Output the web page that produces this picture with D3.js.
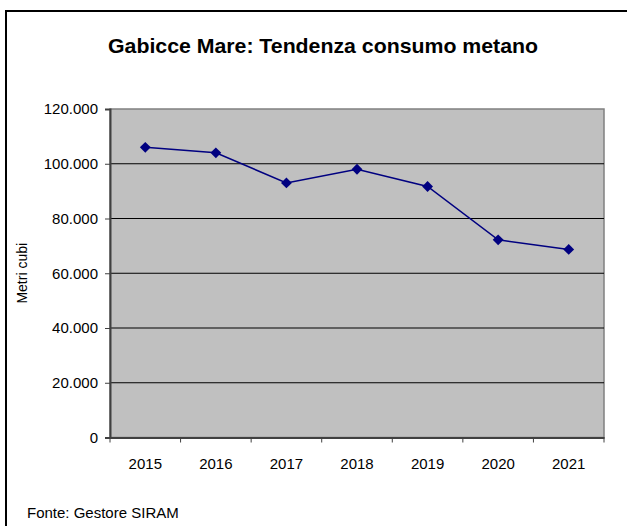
<!DOCTYPE html>
<html>
<head>
<meta charset="utf-8">
<script src="https://cdn.jsdelivr.net/npm/d3@7"></script>
<style>
  body { margin: 0; background: #fff; }
  text { font-family: Arial, "Liberation Sans", sans-serif; fill: #000; }
</style>
</head>
<body>
<script>
const years = ['2015', '2016', '2017', '2018', '2019', '2020', '2021'];
const consumo = [106000, 104000, 93000, 98000, 91700, 72200, 68700];
const yTicks = [0, 20000, 40000, 60000, 80000, 100000, 120000];

const width = 627, height = 526;
const plot = { left: 110, top: 109, right: 604, bottom: 437.5 };

const svg = d3.select('body').append('svg')
  .attr('width', width)
  .attr('height', height);

// outer frame (runs off the right and bottom edge)
svg.append('rect')
  .attr('x', 6).attr('y', 11)
  .attr('width', 700).attr('height', 600)
  .attr('fill', 'none')
  .attr('stroke', '#000')
  .attr('stroke-width', 2);

svg.append('text')
  .attr('x', 323).attr('y', 53)
  .attr('text-anchor', 'middle')
  .style('font-size', '21px')
  .style('font-weight', 'bold')
  .attr('textLength', 430)
  .attr('lengthAdjust', 'spacingAndGlyphs')
  .text('Gabicce Mare: Tendenza consumo metano');

const x = d3.scaleBand()
  .domain(years)
  .range([plot.left, plot.right]);

const y = d3.scaleLinear()
  .domain([0, 120000])
  .range([plot.bottom, plot.top]);

// plot background
svg.append('rect')
  .attr('x', plot.left).attr('y', plot.top)
  .attr('width', plot.right - plot.left)
  .attr('height', plot.bottom - plot.top)
  .attr('fill', '#c0c0c0')
  .attr('stroke', '#808080')
  .attr('stroke-width', 1.5);

// gridlines
svg.append('g')
  .selectAll('line')
  .data(yTicks.filter(d => d > 0 && d < 120000))
  .enter().append('line')
  .attr('x1', plot.left).attr('x2', plot.right)
  .attr('y1', d => y(d)).attr('y2', d => y(d))
  .attr('stroke', '#000')
  .attr('stroke-width', 1.2);

const fmt = d => d3.format(',')(d).replace(/,/g, '.');

const yAxis = svg.append('g')
  .attr('transform', `translate(${plot.left},0)`)
  .call(d3.axisLeft(y).tickValues(yTicks).tickFormat(fmt).tickSize(5).tickPadding(7));
yAxis.select('.domain').attr('stroke', '#404040').attr('stroke-width', 2);
yAxis.selectAll('.tick line').attr('stroke', '#404040');
yAxis.selectAll('.tick text').style('font-size', '15px').attr('fill', '#000');

const xAxis = svg.append('g')
  .attr('transform', `translate(0,${plot.bottom})`)
  .call(d3.axisBottom(x).tickSize(0).tickPadding(21));
xAxis.select('.domain').attr('stroke', '#404040').attr('stroke-width', 2);
xAxis.selectAll('.tick text').style('font-size', '15px').attr('fill', '#000');

// tick marks between categories
svg.append('g')
  .selectAll('line')
  .data(years.map(d => x(d)).concat([plot.right]))
  .enter().append('line')
  .attr('x1', d => d).attr('x2', d => d)
  .attr('y1', plot.bottom).attr('y2', plot.bottom + 5)
  .attr('stroke', '#404040');

svg.append('text')
  .attr('transform', `translate(27,${(plot.top + plot.bottom) / 2}) rotate(-90)`)
  .attr('text-anchor', 'middle')
  .style('font-size', '14px')
  .text('Metri cubi');

const line = d3.line()
  .x((d, i) => x(years[i]) + x.bandwidth() / 2)
  .y(d => y(d));

svg.append('path')
  .datum(consumo)
  .attr('d', line)
  .attr('fill', 'none')
  .attr('stroke', '#000080')
  .attr('stroke-width', 1.5);

svg.append('g')
  .selectAll('path')
  .data(consumo)
  .enter().append('path')
  .attr('d', d3.symbol().type(d3.symbolDiamond2).size(75))
  .attr('transform', (d, i) => `translate(${x(years[i]) + x.bandwidth() / 2},${y(d)})`)
  .attr('fill', '#000080');

svg.append('text')
  .attr('x', 27).attr('y', 518)
  .style('font-size', '15px')
  .text('Fonte: Gestore SIRAM');
</script>
</body>
</html>
